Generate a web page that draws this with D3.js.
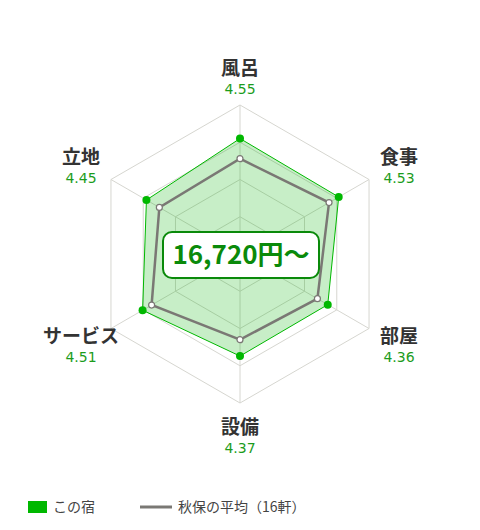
<!DOCTYPE html>
<html>
  <head>
    <meta charset="utf-8">
    <script src="https://d3js.org/d3.v7.min.js"></script>
    <style>
      body { margin: 0px; background: #fff; }
      text { font-family: "Noto Sans CJK JP", sans-serif; }
      .cat { fill: #333; font-size: 19px; font-weight: bold; text-anchor: middle; }
      .val { fill: #1c9c1c; font-size: 14px; text-anchor: middle; font-family: "DejaVu Sans", sans-serif; }
      .legend text { fill: #444; font-size: 14px; }
    </style>
  </head>
  <body>
    <svg width="480" height="530"></svg>
    <script>
      const categories = ['風呂', '食事', '部屋', '設備', 'サービス', '立地'];
      const hotelScores = [4.55, 4.53, 4.36, 4.37, 4.51, 4.45];
      const areaAverage = [4.28, 4.38, 4.20, 4.15, 4.37, 4.25];
      const ringValues = [3.5, 4, 4.5, 5];
      const priceLabel = '16,720円～';
      const legendLabels = ['この宿', '秋保の平均（16軒）'];

      const cx = 240, cy = 254, radius = 149;
      const svg = d3.select('svg');
      const g = svg.append('g').attr('transform', `translate(${cx},${cy})`);

      const rScale = d3.scaleLinear().domain([3, 5]).range([0, radius]);
      const angle = i => i * Math.PI / 3;
      const point = (v, i) => [rScale(v) * Math.sin(angle(i)), -rScale(v) * Math.cos(angle(i))];
      const closedLine = d3.line().curve(d3.curveLinearClosed);

      // grid rings + spokes
      g.selectAll('.ring').data(ringValues).enter().append('path')
          .attr('d', v => closedLine(categories.map((c, i) => point(v, i))))
          .attr('fill', 'none')
          .attr('stroke', '#d6d6d0')
          .attr('stroke-width', 1);
      g.selectAll('.spoke').data(categories).enter().append('line')
          .attr('x1', 0).attr('y1', 0)
          .attr('x2', (c, i) => point(5, i)[0])
          .attr('y2', (c, i) => point(5, i)[1])
          .attr('stroke', '#d6d6d0');

      // hotel area
      g.append('path')
          .attr('d', closedLine(hotelScores.map(point)))
          .attr('fill', 'rgba(0,176,0,0.22)')
          .attr('stroke', '#00b800')
          .attr('stroke-width', 1);

      // average line
      g.append('path')
          .attr('d', closedLine(areaAverage.map(point)))
          .attr('fill', 'none')
          .attr('stroke', '#7a7874')
          .attr('stroke-width', 2.5);

      g.selectAll('.dotH').data(hotelScores).enter().append('circle')
          .attr('cx', (v, i) => point(v, i)[0])
          .attr('cy', (v, i) => point(v, i)[1])
          .attr('r', 4)
          .attr('fill', '#00b800');

      g.selectAll('.dotA').data(areaAverage).enter().append('circle')
          .attr('cx', (v, i) => point(v, i)[0])
          .attr('cy', (v, i) => point(v, i)[1])
          .attr('r', 3)
          .attr('fill', '#fff')
          .attr('stroke', '#7a7874')
          .attr('stroke-width', 1.2);

      // category labels (baseline of name, value below it)
      const labelPos = [[0, -179], [159, -90], [159, 89], [0, 180], [-159, 89], [-159, -90]];
      categories.forEach((c, i) => {
        g.append('text').attr('class', 'cat')
            .attr('x', labelPos[i][0]).attr('y', labelPos[i][1])
            .text(c);
        g.append('text').attr('class', 'val')
            .attr('x', labelPos[i][0]).attr('y', labelPos[i][1] + 19)
            .text(hotelScores[i].toFixed(2));
      });

      // price box
      g.append('rect')
          .attr('x', -77).attr('y', -22)
          .attr('width', 156).attr('height', 46)
          .attr('rx', 9)
          .attr('fill', '#fff')
          .attr('stroke', '#0a8a0a')
          .attr('stroke-width', 2);
      g.append('text')
          .attr('x', 1).attr('y', 10)
          .attr('text-anchor', 'middle')
          .attr('fill', '#0a8a0a')
          .attr('font-size', 26)
          .attr('font-weight', 'bold')
          .attr('font-family', '"DejaVu Sans", "Noto Sans CJK JP", sans-serif')
          .text(priceLabel);

      // legend
      const legend = svg.append('g').attr('class', 'legend');
      legend.append('rect').attr('x', 28).attr('y', 501)
          .attr('width', 19).attr('height', 12).attr('fill', '#00b800');
      legend.append('text').attr('x', 53).attr('y', 512).text(legendLabels[0]);
      legend.append('line').attr('x1', 140).attr('x2', 172)
          .attr('y1', 507).attr('y2', 507)
          .attr('stroke', '#7a7874').attr('stroke-width', 3);
      legend.append('text').attr('x', 178).attr('y', 512).text(legendLabels[1]);
    </script>
  </body>
</html>
